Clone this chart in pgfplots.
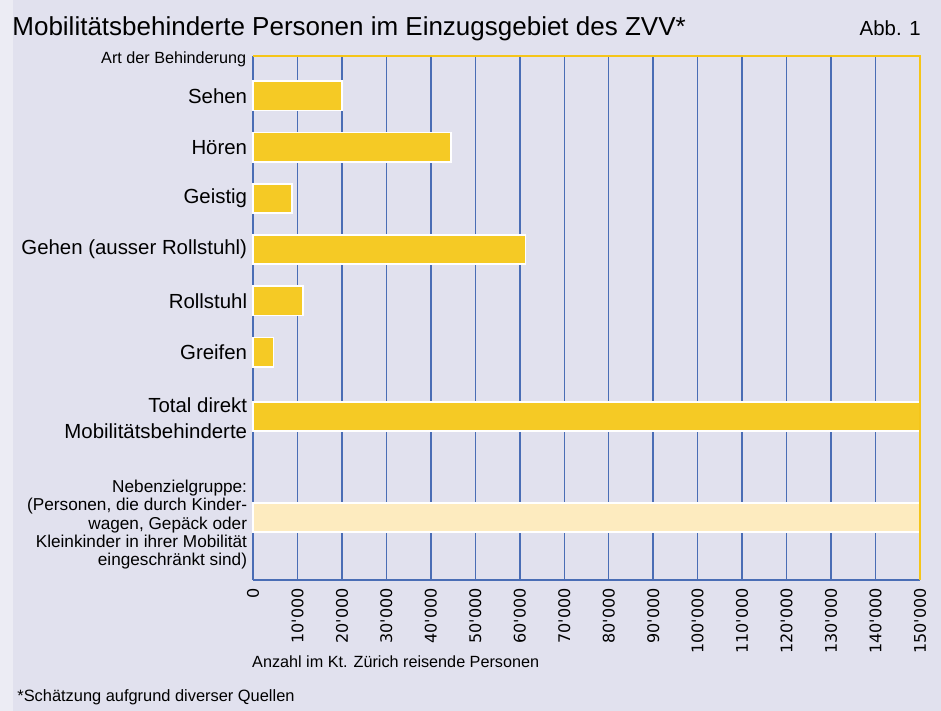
\documentclass[border=0pt]{standalone}
\usepackage{fontspec}
\setmainfont{Liberation Sans}
\newfontfamily\tickfont{DejaVu Sans}
\usepackage{pgfplots}
\pgfplotsset{compat=1.18}

\definecolor{bg}{HTML}{E1E1EE}
\definecolor{strip}{HTML}{ECECF4}
\definecolor{baryellow}{HTML}{F5CA25}
\definecolor{barlight}{HTML}{FDEBBF}
\definecolor{gridblue}{HTML}{4A6DB5}
\definecolor{frameyellow}{HTML}{F5C518}

\newcommand{\q}{\textquotesingle}

% bars above the grid, axis lines above the bars
\pgfplotsset{
  layers/bars below axis/.define layer set={axis background,axis grid,main,axis ticks,axis lines,axis tick labels,axis descriptions,axis foreground}{},
}

\begin{document}
\begin{tikzpicture}
\fill[bg] (-126.5pt,-65.5pt) rectangle (344pt,290pt);
\fill[strip] (-126.5pt,-65.5pt) rectangle (-120pt,290pt);
\begin{axis}[
  set layers=bars below axis,
  at={(0,0)}, anchor=south west,
  scale only axis,
  width=333.5pt, height=262pt,
  clip=false,
  xbar, bar width=0.57, bar shift=0pt,
  xmin=0, xmax=150000,
  ymin=-1.22, ymax=9.01,
  axis x line*=bottom, axis y line*=left,
  axis line style={draw=gridblue, line width=0.8pt, -},
  xmajorgrids=true,
  grid style={draw=gridblue, line width=0.75pt},
  tick style={draw=none},
  scaled x ticks=false,
  xtick={0,10000,...,150000},
  xticklabels={0,10\q000,20\q000,30\q000,40\q000,50\q000,60\q000,70\q000,
    80\q000,90\q000,100\q000,110\q000,120\q000,130\q000,140\q000,150\q000},
  xticklabel style={rotate=90, anchor=east, inner sep=0pt, text=black,
    font=\tickfont\fontsize{8}{9}\selectfont},
  xticklabel shift=4pt,
  ytick={0,1.97,3.23,4.23,5.23,6.23,7.23,8.23},
  yticklabels={
    {\raisebox{-4pt}[\height][\depth]{\fontsize{8.6}{9.2}\selectfont\begin{tabular}{@{}r@{}}Nebenzielgruppe:\\(Personen, die durch Kinder-\\wagen, Gepäck oder\\Kleinkinder in ihrer Mobilität\\eingeschränkt sind)\end{tabular}}},
    {\raisebox{-2pt}[\height][\depth]{\begin{tabular}{@{}r@{}}Total direkt\ \\Mobilitätsbehinderte\end{tabular}}},
    Greifen, Rollstuhl, Gehen (ausser Rollstuhl), Geistig, Hören, Sehen},
  yticklabel style={align=right, inner sep=0pt, text=black,
    font=\fontsize{10.2}{13}\selectfont},
  yticklabel shift=-1.5pt,
]
\addplot[fill=baryellow, draw=white, line width=0.9pt] coordinates {
  (20000,8.23) (44600,7.23) (8700,6.23) (61300,5.23)
  (11300,4.23) (4600,3.23) (150000,1.97)
};
\addplot[fill=barlight, draw=white, line width=0.9pt] coordinates {
  (150000,0)
};
\begin{pgfonlayer}{axis foreground}
\draw[frameyellow, line width=1pt] (rel axis cs:0,1) -- (rel axis cs:1,1) -- (rel axis cs:1,0);
\end{pgfonlayer}
\end{axis}
\node[anchor=base west, inner sep=0pt, font=\fontsize{13}{15}\selectfont] at (-120.5pt,272pt)
  {Mobilitätsbehinderte Personen im Einzugsgebiet des ZVV*};
\node[anchor=base east, inner sep=0pt, font=\fontsize{10.2}{12}\selectfont] at (334pt,272pt) {Abb. 1};
\node[anchor=base east, inner sep=0pt, font=\fontsize{8.1}{10}\selectfont] at (-3.2pt,258pt) {Art der Behinderung};
\node[anchor=base west, inner sep=0pt, font=\fontsize{8.1}{10}\selectfont] at (-0.6pt,-43.7pt) {Anzahl im Kt. Zürich reisende Personen};
\node[anchor=base west, inner sep=0pt, font=\fontsize{8.2}{10}\selectfont] at (-118pt,-60.8pt) {*Schätzung aufgrund diverser Quellen};
\pgfresetboundingbox
\path (-126.5pt,-65.5pt) rectangle (344pt,290pt);
\end{tikzpicture}
\end{document}
